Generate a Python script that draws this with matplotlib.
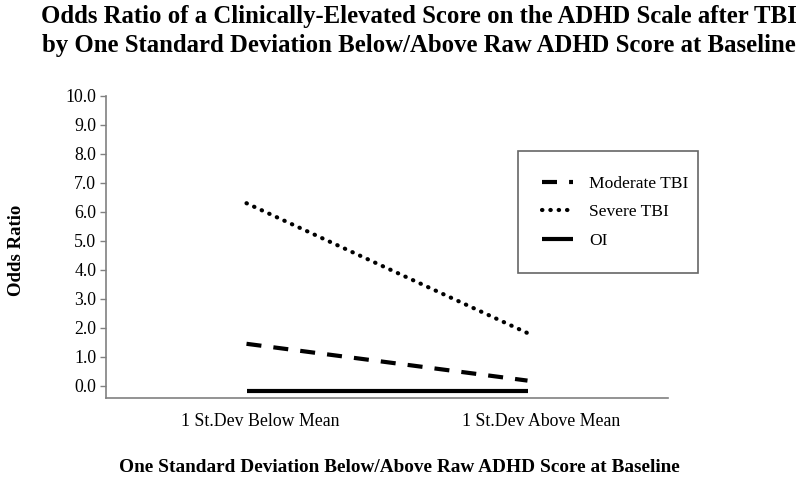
import numpy as np
import matplotlib
matplotlib.use('Agg')
import matplotlib.pyplot as plt

categories = ['1 St.Dev Below Mean', '1 St.Dev Above Mean']
moderate_tbi = [1.45, 0.18]
severe_tbi = [6.3, 1.82]
oi = [-0.17, -0.17]
y_ticks = np.arange(0, 11, 1.0)

plt.rcParams['font.family'] = ['Liberation Serif', 'DejaVu Serif']

fig = plt.figure(figsize=(8, 4.84), dpi=100)
ax = fig.add_axes([0.1325, 0.1777, 0.7025, 0.624])

x = np.arange(len(categories))
ax.plot(x, moderate_tbi, color='black', lw=3.0, linestyle=(0, (3.6, 2.9)),
        dash_capstyle='butt', label='Moderate TBI')
ax.plot(x, severe_tbi, color='black', lw=3.0, linestyle=(0, (0.1, 1.9)),
        dash_capstyle='round', label='Severe TBI')
ax.plot(x, oi, color='black', lw=3.0, solid_capstyle='butt', label='OI')

ax.set_xlim(-0.5, 1.5)
ax.set_ylim(-0.42, 10.0)
ax.set_yticks(y_ticks)
ax.set_yticklabels(['%.1f' % v for v in y_ticks])
# Excel-style: category labels sit a bit right of the points
ax.set_xticks(x + 0.05)
ax.set_xticklabels(categories)

ax.tick_params(axis='x', length=0, pad=11, labelsize=12.8)
ax.tick_params(axis='y', length=4, width=1, color='#808080', labelsize=12.8, pad=3)
for side in ['top', 'right']:
    ax.spines[side].set_visible(False)
for side in ['left', 'bottom']:
    ax.spines[side].set_color('#808080')
    ax.spines[side].set_linewidth(1.2)

leg = ax.legend(loc='upper left', bbox_to_anchor=(0.733, 0.424, 0.32, 0.394),
                mode='expand', frameon=True, fancybox=False, fontsize=12.6,
                handlelength=1.75, handletextpad=0.9, labelspacing=0.7,
                borderpad=1.4, borderaxespad=0)
leg.get_frame().set_edgecolor('#404040')
leg.get_frame().set_linewidth(1.2)

fig.text(0.524, 0.965, 'Odds Ratio of a Clinically-Elevated Score on the ADHD Scale after TBI',
         ha='center', va='center', fontsize=17.8, fontweight='bold')
fig.text(0.524, 0.905, 'by One Standard Deviation Below/Above Raw ADHD Score at Baseline',
         ha='center', va='center', fontsize=17.8, fontweight='bold')
fig.text(0.499, 0.035, 'One Standard Deviation Below/Above Raw ADHD Score at Baseline',
         ha='center', va='center', fontsize=13.9, fontweight='bold')
fig.text(0.021, 0.483, 'Odds Ratio', ha='center', va='center', rotation=90,
         fontsize=13.5, fontweight='bold')

fig.savefig('out.png', dpi=100, facecolor='white')
